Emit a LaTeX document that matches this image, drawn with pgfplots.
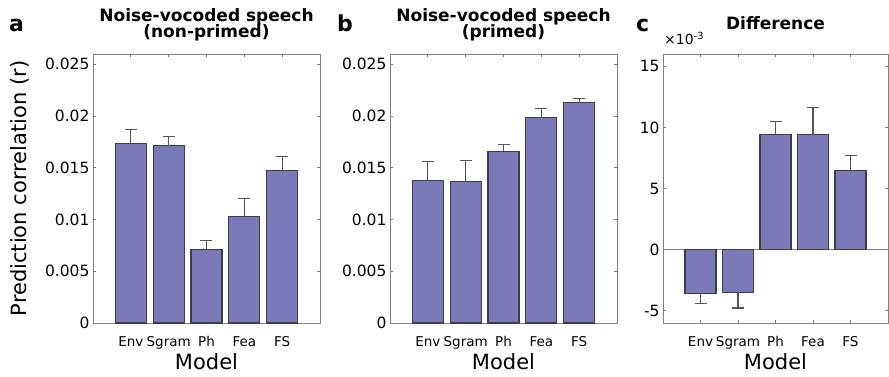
\documentclass[border=0pt]{standalone}
\usepackage{pgfplots}
\pgfplotsset{compat=1.18}
\usepackage{fontspec}
\setmainfont{DejaVu Sans}
\definecolor{barfill}{RGB}{123,122,184}
\definecolor{baredge}{RGB}{60,60,75}
\definecolor{axgray}{RGB}{128,128,128}
\definecolor{errgray}{RGB}{85,85,85}
\tikzset{ptitle/.style={anchor=base, font=\fontsize{17}{17}\selectfont\bfseries}}
\pgfplotsset{
  panel/.style={
    scale only axis,
    anchor=south west,
    height=269pt,
    xmin=0, xmax=6,
    xtick={1,2,3,4,5},
    xticklabels={Env,Sgram,Ph,Fea,FS},
    tick pos=both,
    tick align=inside,
    major tick length=3pt,
    axis line style={axgray, line width=0.9pt},
    every tick/.style={axgray, line width=0.8pt},
    scaled y ticks=false,
    /pgf/number format/assume math mode=true,
    xticklabel style={font=\fontsize{13.5}{14}\selectfont, anchor=base, yshift=-24pt},
    yticklabel style={font=\fontsize{15.5}{16}\selectfont},
    xlabel={Model},
    xlabel style={font=\fontsize{21}{22}\selectfont, at={(axis description cs:0.5,-0.1747)}, anchor=base},
    clip=false,
  },
  bars/.style={
    ybar, bar shift=0pt, bar width=31pt,
    fill=barfill, draw=baredge, line width=1.1pt,
    error bars/y explicit,
    error bars/error bar style={errgray, line width=1.2pt},
    error bars/error mark options={errgray, line width=1.2pt, mark size=6pt, rotate=90},
  },
}
\begin{document}
\begin{tikzpicture}[x=1pt,y=1pt]
\useasboundingbox (0,0) rectangle (889,377);
% panel a
\begin{axis}[panel, at={(93pt,54pt)}, width=227pt,
  ymin=0, ymax=0.026,
  ytick={0,0.005,0.01,0.015,0.02,0.025},
  yticklabels={0,0.005,0.01,0.015,0.02,0.025},
  ylabel={Prediction correlation (r)},
  ylabel style={font=\fontsize{21}{22}\selectfont, at={(axis description cs:-0.3216,0.5)}, anchor=center},
]
\addplot[bars, error bars/y dir=plus] coordinates {
  (1,0.01738) +- (0,0.00135)
  (2,0.01715) +- (0,0.00084)
  (3,0.00713) +- (0,0.00083)
  (4,0.01032) +- (0,0.00170)
  (5,0.01477) +- (0,0.00135)
};
\node[ptitle] at (rel axis cs:0.5,1.119) {Noise-vocoded speech};
\node[ptitle] at (rel axis cs:0.5,1.0613) {(non-primed)};
\end{axis}
% panel b
\begin{axis}[panel, at={(390pt,54pt)}, width=227pt,
  ymin=0, ymax=0.026,
  ytick={0,0.005,0.01,0.015,0.02,0.025},
  yticklabels={0,0.005,0.01,0.015,0.02,0.025},
]
\addplot[bars, error bars/y dir=plus] coordinates {
  (1,0.01380) +- (0,0.00180)
  (2,0.01364) +- (0,0.00206)
  (3,0.01661) +- (0,0.00067)
  (4,0.01983) +- (0,0.00087)
  (5,0.02128) +- (0,0.00038)
};
\node[ptitle] at (rel axis cs:0.5,1.119) {Noise-vocoded speech};
\node[ptitle] at (rel axis cs:0.5,1.0613) {(primed)};
\end{axis}
% panel c
\begin{axis}[panel, at={(663pt,54pt)}, width=225pt,
  ymin=-6, ymax=16,
  ytick={-5,0,5,10,15},
  extra y ticks={0}, extra y tick labels={},
  extra y tick style={grid=major, major grid style={axgray, line width=0.8pt}},
]
\addplot[bars, error bars/y dir=minus] coordinates {
  (1,-3.60) +- (0,0.81)
  (2,-3.47) +- (0,1.30)
};
\addplot[bars, error bars/y dir=plus] coordinates {
  (3,9.43) +- (0,1.08)
  (4,9.40) +- (0,2.20)
  (5,6.50) +- (0,1.20)
};
\node[ptitle] at (rel axis cs:0.5,1.0914) {Difference};
\end{axis}
% panel letters and multiplier
\node[anchor=base west, font=\fontsize{22}{22}\selectfont\bfseries, inner sep=0] at (9,345) {a};
\node[anchor=base west, font=\fontsize{22}{22}\selectfont\bfseries, inner sep=0] at (337,345) {b};
\node[anchor=base west, font=\fontsize{22}{22}\selectfont\bfseries, inner sep=0] at (636,345) {c};
\node[anchor=base west, font=\fontsize{14}{14}\selectfont, inner sep=0] at (664,332) {×10\textsuperscript{-3}};
\end{tikzpicture}
\end{document}
